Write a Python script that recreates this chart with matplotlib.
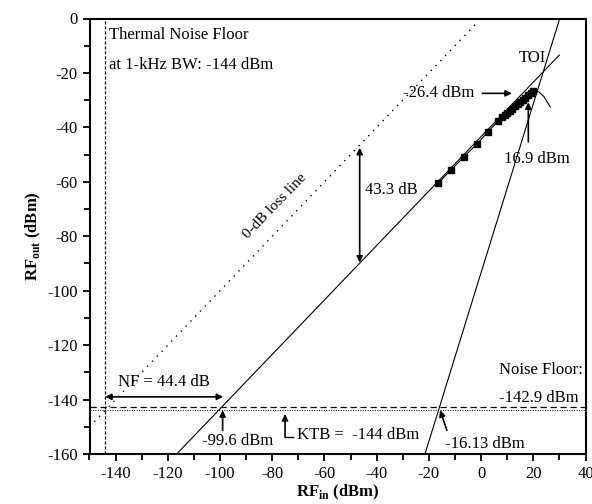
import matplotlib.pyplot as plt

plt.rcParams["font.family"] = "Liberation Serif"
plt.rcParams["mathtext.fontset"] = "custom"
plt.rcParams["mathtext.rm"] = "Liberation Serif"
plt.rcParams["mathtext.bf"] = "Liberation Serif:bold"
plt.rcParams["axes.unicode_minus"] = False
plt.rcParams["font.size"] = 12

# measured fundamental output power
RF_IN = [-16.5, -11.5, -6.5, -1.5, 2.5, 6.5, 8, 9, 10, 11, 12, 13, 14, 15, 16, 17, 18, 19, 20]
RF_OUT = [-60.6, -55.6, -50.8, -46.0, -41.8, -37.7, -36.3, -35.5, -34.7, -33.9,
          -33.1, -32.3, -31.5, -30.7, -29.9, -29.1, -28.2, -27.3, -26.5]

# short roll-off past the last measured point
ROLL_IN = [20, 22, 24, 26.5]
ROLL_OUT = [-26.5, -26.9, -28.6, -32.5]

# extrapolated fundamental (slope 1) and third-order (slope ~3) lines
FUND_IN = [-116.6, 30.0]
FUND_OUT = [-160.0, -13.4]
IM3_IN = [-21.5, 30.0]
IM3_OUT = [-160.0, -0.4]

# 0-dB loss reference
LOSS_IN = [-150.0, -2.0]
LOSS_OUT = [-150.0, -2.0]

NOISE_FLOOR = -142.9
KTB = -144.0
THERMAL_X = -144.0

XTICKS = list(range(-140, 41, 20))
YTICKS = list(range(-160, 1, 20))


def main():
    fig = plt.figure(figsize=(5.92, 5.04), dpi=100)
    ax = fig.add_axes([89.5 / 592, 1 - 454 / 504, 496 / 592, 435.5 / 504])

    ax.plot(LOSS_IN, LOSS_OUT, color="k", lw=1.0, ls=(0, (1, 4)))
    ax.plot(FUND_IN, FUND_OUT, color="k", lw=0.8)
    ax.plot(IM3_IN, IM3_OUT, color="k", lw=0.8)
    ax.plot(ROLL_IN, ROLL_OUT, color="k", lw=0.8)
    ax.plot(RF_IN, RF_OUT, color="k", lw=0.8, marker="s", markersize=4)

    ax.axhline(NOISE_FLOOR, color="k", lw=0.9, ls=(0, (5, 3)))
    ax.axhline(KTB, color="k", lw=0.7, ls=(0, (1, 1.5)))
    ax.axvline(THERMAL_X, color="k", lw=0.9, ls=(0, (2.5, 1.5)))

    ax.set_xlim(-150, 40)
    ax.set_ylim(-160, 0)
    ax.set_xticks(XTICKS)
    ax.set_xticks(range(-150, 41, 10), minor=True)
    ax.set_yticks(YTICKS)
    ax.set_yticks(range(-160, 1, 10), minor=True)
    ax.tick_params(which="both", direction="out", width=1.3, labelsize=12)
    ax.tick_params(which="major", length=5)
    ax.tick_params(which="minor", length=4)
    for side in ax.spines.values():
        side.set_linewidth(1.5)

    ax.set_xlabel("RF$_{\\mathbf{in}}$ (dBm)", fontweight="bold", fontsize=12, labelpad=1)
    ax.set_ylabel("RF$_{\\mathbf{out}}$ (dBm)", fontweight="bold", fontsize=12, labelpad=3)

    arrow = dict(arrowstyle="-|>", color="k", lw=1.2, mutation_scale=9, shrinkA=0, shrinkB=0)
    double = dict(arrowstyle="<|-|>", color="k", lw=1.2, mutation_scale=9, shrinkA=0, shrinkB=0)

    ax.text(-142.4, -6.1, "Thermal Noise Floor", ha="left", va="center")
    ax.text(-142.4, -17.1, "at 1-kHz BW: -144 dBm", ha="left", va="center")

    ax.text(-79, -69, "0-dB loss line", rotation=46, ha="center", va="center", fontsize=11)

    ax.annotate("", xy=(-46.5, -47.5), xytext=(-46.5, -89.7), arrowprops=double)
    ax.text(-44.5, -63, "43.3 dB", ha="left", va="center")

    ax.text(19.5, -14.5, "TOI", ha="center", va="center")
    ax.text(-2.5, -27.5, "-26.4 dBm", ha="right", va="center")
    ax.annotate("", xy=(11.8, -27.5), xytext=(0.5, -27.5), arrowprops=arrow)
    ax.annotate("", xy=(18.1, -30.8), xytext=(18.1, -45.3), arrowprops=arrow)
    ax.text(21.3, -51.8, "16.9 dBm", ha="center", va="center")

    ax.annotate("", xy=(-98.8, -139.0), xytext=(-144.0, -139.0), arrowprops=double)
    ax.text(-121.5, -133.5, "NF = 44.4 dB", ha="center", va="center")

    ax.annotate("", xy=(-99.0, -143.9), xytext=(-99.0, -151.3), arrowprops=arrow)
    ax.text(-107, -155.2, "-99.6 dBm", ha="left", va="center")

    ax.plot([-75.1, -71.9], [-153.7, -153.7], color="k", lw=1.0)
    ax.annotate("", xy=(-75.1, -145.3), xytext=(-75.1, -153.7), arrowprops=arrow)
    ax.text(-70.5, -153.1, "KTB =  -144 dBm", ha="left", va="center")

    ax.annotate("", xy=(-15.7, -143.9), xytext=(-13.1, -151.3), arrowprops=arrow)
    ax.text(-13.8, -156.2, "-16.13 dBm", ha="left", va="center")

    ax.text(6.7, -129.2, "Noise Floor:", ha="left", va="center")
    ax.text(6.7, -139.6, "-142.9 dBm", ha="left", va="center")

    fig.savefig("out.png", dpi=100)


if __name__ == "__main__":
    main()
